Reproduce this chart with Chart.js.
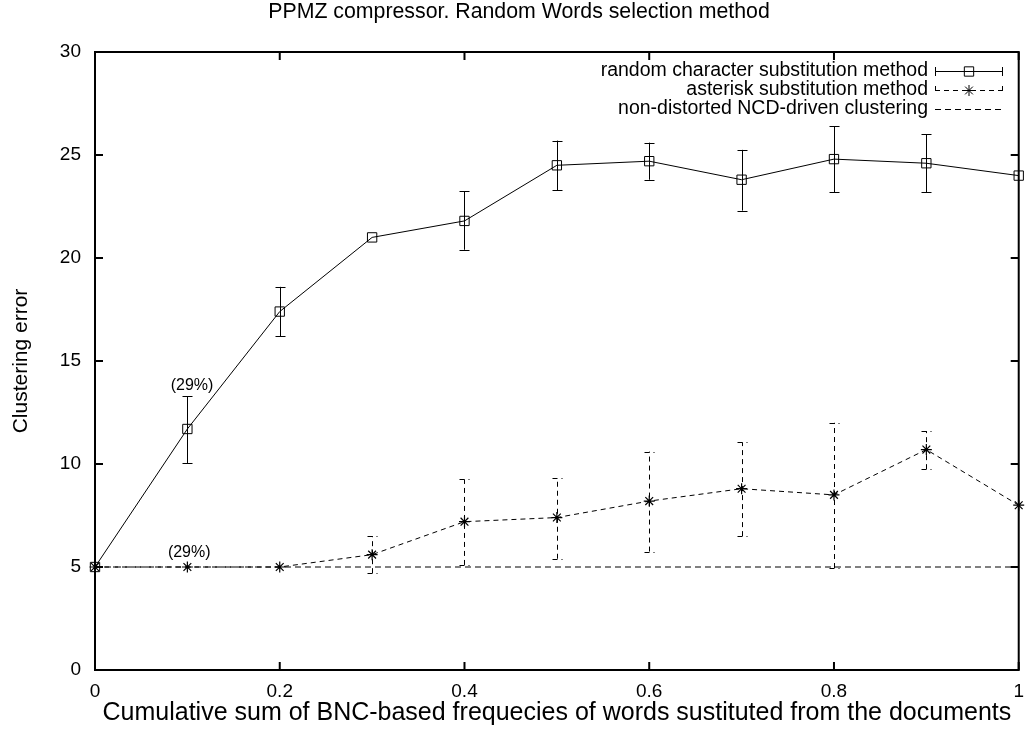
<!DOCTYPE html>
<html><head><meta charset="utf-8">
<script src="https://cdn.jsdelivr.net/npm/chart.js@4"></script>
<style>html,body{margin:0;padding:0;background:#fff}</style>
</head><body>
<canvas id="c" width="1034" height="733"></canvas>
<script>
const chartTitle = 'PPMZ compressor. Random Words selection method';
const xTitle = 'Cumulative sum of BNC-based frequecies of words sustituted from the documents';
const yTitle = 'Clustering error';

const xValues = [0, 0.1, 0.2, 0.3, 0.4, 0.5, 0.6, 0.7, 0.8, 0.9, 1];
const randomChar     = [5, 11.7, 17.4, 21.0, 21.8, 24.5, 24.7, 23.8, 24.8, 24.6, 24.0];
const randomCharLow  = [5, 10.05, 16.2, 21.0, 20.4, 23.3, 23.8, 22.3, 23.2, 23.2, 24.0];
const randomCharHigh = [5, 13.3, 18.6, 21.0, 23.25, 25.7, 25.6, 25.25, 26.4, 26.0, 24.0];
const asterisk       = [5, 5, 5, 5.6, 7.2, 7.4, 8.2, 8.8, 8.5, 10.7, 8.0];
const asteriskLow    = [5, 5, 5, 4.7, 5.1, 5.4, 5.75, 6.5, 4.95, 9.75, 8.0];
const asteriskHigh   = [5, 5, 5, 6.5, 9.25, 9.3, 10.6, 11.05, 12.0, 11.6, 8.0];
const baselineX = [0, 1];
const baseline  = [5, 5];
const seriesNames = ['random character substitution method', 'asterisk substitution method', 'non-distorted NCD-driven clustering'];
const xTicks = [0, 0.2, 0.4, 0.6, 0.8, 1];
const yTicks = [0, 5, 10, 15, 20, 25, 30];
const noteText = ['(29%)', '(29%)'];
const noteX = [0.105, 0.102];
const noteY = [13.8, 5.7];

const FONT = "'Liberation Sans', Arial, Helvetica, sans-serif";
Chart.defaults.font.family = FONT;
Chart.defaults.color = '#000';

const errorBars = {
  id: 'errorBars',
  afterDatasetsDraw(chart) {
    const {ctx, scales: {x, y}} = chart;
    chart.data.datasets.forEach(ds => {
      if (!ds.errLow) return;
      ctx.save();
      ctx.strokeStyle = '#000';
      ctx.lineWidth = 1;
      ctx.setLineDash(ds.borderDash || []);
      ds.data.forEach((p, i) => {
        const lo = ds.errLow[i], hi = ds.errHigh[i];
        if (lo === hi) return;
        const px = Math.round(x.getPixelForValue(p.x)) + 0.5;
        const y1 = y.getPixelForValue(lo), y2 = y.getPixelForValue(hi);
        ctx.beginPath();
        ctx.moveTo(px, y1); ctx.lineTo(px, y2);
        ctx.moveTo(px - 5, Math.round(y1) + 0.5); ctx.lineTo(px + 5, Math.round(y1) + 0.5);
        ctx.moveTo(px - 5, Math.round(y2) + 0.5); ctx.lineTo(px + 5, Math.round(y2) + 0.5);
        ctx.stroke();
      });
      ctx.restore();
    });
  }
};

const frame = {
  id: 'frame',
  afterDraw(chart) {
    const {ctx, chartArea: a, scales: {x, y}} = chart;
    ctx.save();
    ctx.strokeStyle = '#000';
    ctx.lineWidth = 2;
    ctx.setLineDash([]);
    ctx.strokeRect(a.left, a.top, a.right - a.left, a.bottom - a.top);
    const L = 8;
    ctx.beginPath();
    xTicks.forEach(v => {
      const px = x.getPixelForValue(v);
      ctx.moveTo(px, a.bottom); ctx.lineTo(px, a.bottom - L);
      ctx.moveTo(px, a.top); ctx.lineTo(px, a.top + L);
    });
    yTicks.forEach(v => {
      const py = y.getPixelForValue(v);
      ctx.moveTo(a.left, py); ctx.lineTo(a.left + L, py);
      ctx.moveTo(a.right, py); ctx.lineTo(a.right - L, py);
    });
    ctx.stroke();

    ctx.fillStyle = '#000';
    ctx.textAlign = 'center';
    ctx.textBaseline = 'middle';
    // title
    ctx.font = '21.3px ' + FONT;
    ctx.fillText(chartTitle, 519, 12);

    // notes
    ctx.font = '16px ' + FONT;
    noteText.forEach((t, i) => ctx.fillText(t, x.getPixelForValue(noteX[i]), y.getPixelForValue(noteY[i])));

    // legend (gnuplot style, top-right inside)
    const textRight = 928, s0 = 935, s1 = 1003, rows = [71, 90, 109];
    ctx.textAlign = 'right';
    chart.data.datasets.forEach((ds, i) => {
      const ry = rows[i];
      ctx.font = '19.5px ' + FONT;
      ctx.fillStyle = '#000';
      ctx.fillText(ds.label, textRight, ry);
      ctx.lineWidth = 1;
      ctx.setLineDash(ds.borderDash || []);
      ctx.beginPath();
      ctx.moveTo(s0, ry + 0.5); ctx.lineTo(s1, ry + 0.5);
      if (ds.errLow) {
        ctx.moveTo(s0 + 0.5, ry - 4); ctx.lineTo(s0 + 0.5, ry + 5);
        ctx.moveTo(s1 - 0.5, ry - 4); ctx.lineTo(s1 - 0.5, ry + 5);
      }
      ctx.stroke();
      ctx.setLineDash([]);
      if (ds.pointRadius > 0) {
        ctx.fillStyle = 'rgba(0,0,0,0)';
        Chart.helpers.drawPoint(ctx, {pointStyle: ds.pointStyle, rotation: 0, radius: ds.pointRadius, borderWidth: 1}, (s0 + s1) / 2, ry + 0.5);
      }
    });
    ctx.restore();
  }
};

new Chart(document.getElementById('c'), {
  type: 'line',
  data: {
    datasets: [
      {
        label: seriesNames[0],
        data: xValues.map((v, i) => ({x: v, y: randomChar[i]})),
        errLow: randomCharLow, errHigh: randomCharHigh,
        borderColor: '#000', borderWidth: 1, tension: 0, fill: false, clip: false,
        pointStyle: 'rect', pointRadius: 6.6, pointBorderWidth: 1,
        pointBorderColor: '#000', pointBackgroundColor: 'rgba(0,0,0,0)'
      },
      {
        label: seriesNames[1],
        data: xValues.map((v, i) => ({x: v, y: asterisk[i]})),
        errLow: asteriskLow, errHigh: asteriskHigh,
        borderColor: '#000', borderWidth: 1, borderDash: [5, 4], tension: 0, fill: false, clip: false,
        pointStyle: 'star', pointRadius: 5.5, pointBorderWidth: 1.2,
        pointBorderColor: '#000', pointBackgroundColor: 'rgba(0,0,0,0)'
      },
      {
        label: seriesNames[2],
        data: baselineX.map((v, i) => ({x: v, y: baseline[i]})),
        borderColor: '#000', borderWidth: 1, borderDash: [6, 4], tension: 0, fill: false, clip: false,
        pointRadius: 0
      }
    ]
  },
  options: {
    responsive: false, animation: false, events: [],
    layout: {padding: {left: 0, right: 6, top: 52, bottom: 0}},
    plugins: {
      legend: {display: false},
      tooltip: {enabled: false},
      title: {display: false}
    },
    scales: {
      x: {
        type: 'linear', min: 0, max: 1,
        grid: {display: false, drawTicks: false}, border: {display: false},
        afterBuildTicks: s => { s.ticks = xTicks.map(v => ({value: v})); },
        afterFit: s => { s.height = 63; },
        ticks: {font: {size: 19}, padding: 10, maxRotation: 0, autoSkip: false, callback: v => String(v)},
        title: {display: true, text: xTitle, font: {size: 25}, padding: {bottom: 5}}
      },
      y: {
        type: 'linear', min: 0, max: 30,
        grid: {display: false, drawTicks: false}, border: {display: false},
        afterBuildTicks: s => { s.ticks = yTicks.map(v => ({value: v})); },
        afterFit: s => { s.width = 95; },
        ticks: {font: {size: 19}, padding: 14, callback: v => String(v)},
        title: {display: true, text: yTitle, font: {size: 21}, padding: {top: 9}}
      }
    }
  },
  plugins: [errorBars, frame]
});
</script>
</body></html>
